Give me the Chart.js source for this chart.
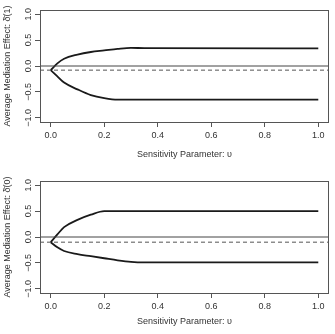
<!DOCTYPE html>
<html>
<head>
<meta charset="utf-8">
<script src="https://cdn.jsdelivr.net/npm/chart.js@4.4.1/dist/chart.umd.min.js"></script>
<style>
  body { margin: 0; background: #fff; }
  .panel { position: absolute; left: 0; width: 335px; height: 167px; }
</style>
</head>
<body>
<div class="panel" style="top:0"><canvas id="chartTop"></canvas></div>
<div class="panel" style="top:167px"><canvas id="chartBottom"></canvas></div>
<script>
// sensitivity parameter grid
const rho = [0, 0.025, 0.05, 0.1, 0.15, 0.2, 0.25, 0.3, 0.35, 1.0];

// delta(1) bounds and point estimate
const upper1 = [-0.08, 0.05, 0.14, 0.22, 0.27, 0.30, 0.33, 0.35, 0.345, 0.34];
const lower1 = [-0.08, -0.20, -0.32, -0.45, -0.56, -0.62, -0.65, -0.65, -0.65, -0.65];
const est1 = -0.08;

// delta(0) bounds and point estimate
const upper2 = [-0.10, 0.05, 0.19, 0.33, 0.43, 0.50, 0.50, 0.50, 0.50, 0.50];
const lower2 = [-0.10, -0.20, -0.27, -0.33, -0.37, -0.41, -0.45, -0.48, -0.49, -0.49];
const est2 = -0.10;

const xTicks = [0, 0.2, 0.4, 0.6, 0.8, 1.0];
const yTicks = [-1, -0.5, 0, 0.5, 1];
const xRange = [-0.04, 1.04];
const yRange = [-1.08, 1.08];

const FONT = "'Liberation Sans', Arial, Helvetica, sans-serif";
const TEXT = "#333";

const fmt = (v) => {
  const s = Math.abs(v).toFixed(1);
  return v < 0 ? "\u2212" + s : s;
};

// draws the full R-style box around the plot area
const boxPlugin = {
  id: "box",
  afterDraw(chart) {
    const a = chart.chartArea;
    const ctx = chart.ctx;
    ctx.save();
    ctx.strokeStyle = "#555";
    ctx.lineWidth = 1;
    ctx.strokeRect(Math.round(a.left) + 0.5, Math.round(a.top) + 0.5,
      Math.round(a.right - a.left) - 1, Math.round(a.bottom - a.top));
    ctx.restore();
  },
};

function makeChart(id, upper, lower, est, yTitle, topPad, xHeight) {
  const pts = (ys) => rho.map((x, i) => ({ x: x, y: ys[i] }));
  const hline = (v) => xRange.map((x) => ({ x: x, y: v }));
  const curve = (ys) => ({
    data: pts(ys),
    borderColor: "#1a1a1a",
    borderWidth: 1.8,
    pointRadius: 0,
    cubicInterpolationMode: "monotone",
  });

  return new Chart(document.getElementById(id), {
    type: "line",
    data: {
      datasets: [
        { data: hline(0), borderColor: "#444", borderWidth: 1, pointRadius: 0 },
        { data: hline(est), borderColor: "#555", borderWidth: 1, borderDash: [4, 3], pointRadius: 0 },
        curve(upper),
        curve(lower),
      ],
    },
    options: {
      responsive: true,
      maintainAspectRatio: false,
      animation: false,
      layout: { padding: { top: topPad, right: 6, left: 0, bottom: 0 } },
      plugins: { legend: { display: false }, tooltip: { enabled: false } },
      scales: {
        x: {
          type: "linear",
          min: xRange[0],
          max: xRange[1],
          afterBuildTicks: (s) => { s.ticks = xTicks.map((v) => ({ value: v })); },
          afterFit: (s) => { s.height = xHeight; },
          border: { display: false },
          grid: { drawOnChartArea: false, drawTicks: true, tickLength: 5, color: "#555" },
          ticks: {
            color: TEXT,
            padding: 3,
            maxRotation: 0,
            font: { family: FONT, size: 9 },
            callback: (v) => fmt(v),
          },
          title: {
            display: true,
            text: "Sensitivity Parameter: \u03c5",
            color: TEXT,
            font: { family: FONT, size: 9 },
            padding: { top: 0, bottom: 7 },
          },
        },
        y: {
          type: "linear",
          min: yRange[0],
          max: yRange[1],
          afterBuildTicks: (s) => { s.ticks = yTicks.map((v) => ({ value: v })); },
          afterFit: (s) => { s.width = 40; },
          border: { display: false },
          grid: { drawOnChartArea: false, drawTicks: true, tickLength: 5, color: "#555" },
          ticks: {
            color: TEXT,
            padding: -2,
            minRotation: 90,
            maxRotation: 90,
            crossAlign: "center",
            font: { family: FONT, size: 9 },
            callback: (v) => fmt(v),
          },
          title: {
            display: true,
            text: yTitle,
            color: TEXT,
            font: { family: FONT, size: 9 },
            padding: { top: 2, bottom: 0 },
          },
        },
      },
    },
    plugins: [boxPlugin],
  });
}

makeChart("chartTop", upper1, lower1, est1, "Average Mediation Effect: \u03b4\u0304(1)", 10, 45);
makeChart("chartBottom", upper2, lower2, est2, "Average Mediation Effect: \u03b4\u0304(0)", 14, 41);
</script>
</body>
</html>
